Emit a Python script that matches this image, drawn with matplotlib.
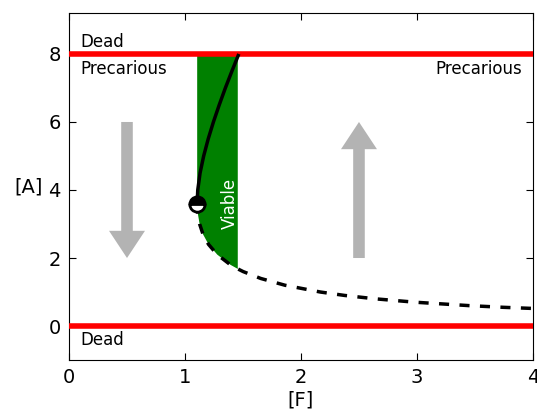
import numpy as np
import matplotlib
matplotlib.use("Agg")
import matplotlib.pyplot as plt

# Upper (stable) branch of the fold curve: [F], [A]
F_upper = [1.105, 1.110, 1.130, 1.161, 1.200, 1.245, 1.295, 1.348, 1.405, 1.464]
A_upper = [3.6, 4.0, 4.5, 5.0, 5.5, 6.0, 6.5, 7.0, 7.5, 8.0]

# Lower (unstable) branch
F_lower = [1.105, 1.111, 1.126, 1.155, 1.203, 1.278, 1.392, 1.455, 1.502, 1.652,
           1.861, 2.167, 2.375, 2.640, 2.985, 3.449, 3.747, 4.05]
A_lower = [3.6, 3.3, 3.0, 2.7, 2.4, 2.1, 1.8, 1.68, 1.6, 1.4,
           1.2, 1.0, 0.9, 0.8, 0.7, 0.6, 0.55, 0.51]

saddle_F, saddle_A = 1.105, 3.6
viable_F_max = 1.455
dead_high, dead_low = 8, 0

x_ticks = [0, 1, 2, 3, 4]
y_ticks = [0, 2, 4, 6, 8]

fig = plt.figure(figsize=(5.37, 4.11), dpi=100)
ax = fig.add_axes([0.1285, 0.124, 0.864, 0.844])

# viable region
Fl = np.array(F_lower); Al = np.array(A_lower)
m = Fl <= viable_F_max + 1e-9
px = np.r_[Fl[m], viable_F_max, saddle_F]
py = np.r_[Al[m], dead_high, dead_high]
ax.fill(px, py, color="green", lw=0, zorder=1)

# arrows
ax.arrow(0.5, 6, 0, -4, width=0.1, head_width=0.31, head_length=0.8,
         length_includes_head=True, color="0.7", lw=0, zorder=1)
ax.arrow(2.5, 2, 0, 4, width=0.1, head_width=0.31, head_length=0.8,
         length_includes_head=True, color="0.7", lw=0, zorder=1)

# dead lines
ax.axhline(dead_high, color="red", lw=4, zorder=3)
ax.axhline(dead_low, color="red", lw=4, zorder=3)

# branches
ax.plot(F_upper, A_upper, color="black", lw=2.5, zorder=4, solid_capstyle="butt")
ax.plot(F_lower, A_lower, color="black", lw=2.5, ls=(0, (2.9, 3.0)), zorder=4)
ax.plot([saddle_F], [saddle_A], marker="o", ms=11, mew=2, mec="black",
        mfc="black", mfcalt="white", fillstyle="top", zorder=5)

# texts
ax.text(0.095, 8.35, "Dead", fontsize=12, va="center", ha="left")
ax.text(0.095, 7.56, "Precarious", fontsize=12, va="center", ha="left")
ax.text(3.905, 7.56, "Precarious", fontsize=12, va="center", ha="right")
ax.text(0.095, -0.42, "Dead", fontsize=12, va="center", ha="left")
ax.text(1.39, 3.6, "Viable", fontsize=12, color="white", rotation=90,
        va="center", ha="center", zorder=6)

ax.set_xlim(0, 4)
ax.set_ylim(-1, 9.2)
ax.set_xticks(x_ticks)
ax.set_yticks(y_ticks)
ax.tick_params(direction="in", top=True, right=True, labelsize=14, length=5, pad=6)
ax.set_xlabel("[F]", fontsize=14, labelpad=2)
ax.set_ylabel("[A]", fontsize=14, rotation=0, labelpad=14, va="center")

fig.savefig("out.png", dpi=100)
